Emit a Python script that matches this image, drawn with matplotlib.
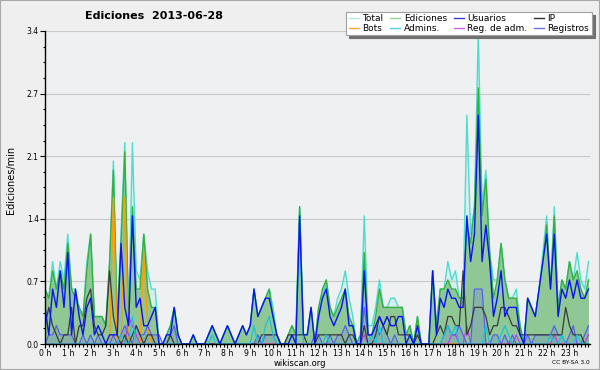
import numpy as np
import matplotlib
matplotlib.use("Agg")
import matplotlib.pyplot as plt
from matplotlib.lines import Line2D
from matplotlib.patches import Rectangle

# --- data: edits per minute, one value per 10 minutes (6 per hour) ---
total = [
    0.6, 0.5, 0.9, 0.6, 0.9, 0.7,
    1.2, 0.6, 0.6, 0.4, 0.3, 0.9,
    1.2, 0.3, 0.3, 0.3, 0.2, 0.9,
    2.0, 0.3, 1.2, 2.2, 0.3, 2.2,
    0.8, 0.7, 1.2, 0.8, 0.6, 0.6,
    0.0, 0.0, 0.1, 0.2, 0.4, 0.1,
    0.0, 0.0, 0.0, 0.1, 0.0, 0.0,
    0.0, 0.1, 0.2, 0.1, 0.0, 0.1,
    0.2, 0.1, 0.0, 0.1, 0.2, 0.1,
    0.2, 0.6, 0.3, 0.4, 0.5, 0.6,
    0.4, 0.1, 0.0, 0.0, 0.1, 0.2,
    0.1, 1.5, 0.1, 0.1, 0.4, 0.0,
    0.4, 0.5, 0.7, 0.4, 0.3, 0.5,
    0.6, 0.8, 0.5, 0.3, 0.0, 0.1,
    1.4, 0.2, 0.2, 0.4, 0.7, 0.4,
    0.4, 0.5, 0.5, 0.4, 0.4, 0.1,
    0.2, 0.0, 0.3, 0.0, 0.0, 0.0,
    0.8, 0.2, 0.6, 0.6, 0.9, 0.7,
    0.8, 0.5, 0.5, 2.5, 1.2, 1.5,
    3.4, 1.5, 1.9, 1.0, 0.7, 0.7,
    1.1, 0.7, 0.5, 0.5, 0.6, 0.2,
    0.0, 0.5, 0.4, 0.3, 0.6, 1.0,
    1.4, 0.6, 1.5, 0.4, 0.7, 0.6,
    0.9, 0.7, 1.0, 0.7, 0.6, 0.9,
]
ediciones = [
    0.6, 0.5, 0.8, 0.6, 0.8, 0.6,
    1.1, 0.6, 0.5, 0.4, 0.3, 0.8,
    1.2, 0.3, 0.3, 0.3, 0.2, 0.9,
    1.9, 0.2, 1.1, 2.1, 0.2, 1.5,
    0.6, 0.6, 1.2, 0.6, 0.4, 0.4,
    0.0, 0.0, 0.1, 0.2, 0.4, 0.1,
    0.0, 0.0, 0.0, 0.1, 0.0, 0.0,
    0.0, 0.1, 0.2, 0.1, 0.0, 0.1,
    0.2, 0.1, 0.0, 0.1, 0.2, 0.1,
    0.2, 0.6, 0.3, 0.4, 0.5, 0.6,
    0.3, 0.1, 0.0, 0.0, 0.1, 0.2,
    0.1, 1.5, 0.1, 0.1, 0.4, 0.0,
    0.4, 0.6, 0.7, 0.4, 0.3, 0.4,
    0.5, 0.6, 0.3, 0.2, 0.0, 0.1,
    1.0, 0.1, 0.1, 0.3, 0.6, 0.4,
    0.4, 0.4, 0.4, 0.4, 0.4, 0.1,
    0.2, 0.0, 0.3, 0.0, 0.0, 0.0,
    0.8, 0.2, 0.6, 0.6, 0.7, 0.6,
    0.6, 0.5, 0.5, 1.3, 1.1, 1.5,
    2.8, 1.4, 1.8, 1.0, 0.5, 0.7,
    1.1, 0.7, 0.5, 0.5, 0.5, 0.2,
    0.0, 0.5, 0.4, 0.3, 0.6, 0.9,
    1.3, 0.6, 1.4, 0.4, 0.7, 0.6,
    0.9, 0.7, 0.8, 0.6, 0.5, 0.7,
]
usuarios = [
    0.4, 0.1, 0.6, 0.4, 0.8, 0.4,
    1.0, 0.1, 0.6, 0.3, 0.1, 0.4,
    0.5, 0.1, 0.2, 0.1, 0.0, 0.1,
    0.1, 0.1, 1.1, 0.4, 0.2, 1.4,
    0.4, 0.5, 0.2, 0.2, 0.3, 0.4,
    0.0, 0.0, 0.1, 0.1, 0.4, 0.1,
    0.0, 0.0, 0.0, 0.1, 0.0, 0.0,
    0.0, 0.1, 0.2, 0.1, 0.0, 0.1,
    0.2, 0.1, 0.0, 0.1, 0.2, 0.1,
    0.2, 0.6, 0.3, 0.4, 0.5, 0.5,
    0.3, 0.1, 0.0, 0.0, 0.0, 0.1,
    0.0, 1.4, 0.1, 0.1, 0.4, 0.0,
    0.3, 0.5, 0.6, 0.3, 0.2, 0.3,
    0.4, 0.6, 0.2, 0.2, 0.0, 0.0,
    0.8, 0.1, 0.1, 0.2, 0.3, 0.2,
    0.3, 0.2, 0.2, 0.3, 0.3, 0.0,
    0.1, 0.0, 0.2, 0.0, 0.0, 0.0,
    0.8, 0.1, 0.5, 0.4, 0.6, 0.5,
    0.5, 0.4, 0.4, 1.4, 0.9, 1.2,
    2.5, 0.9, 1.3, 0.9, 0.3, 0.5,
    0.8, 0.3, 0.4, 0.4, 0.4, 0.1,
    0.0, 0.5, 0.4, 0.3, 0.6, 0.9,
    1.2, 0.6, 1.2, 0.3, 0.6, 0.5,
    0.7, 0.5, 0.7, 0.5, 0.5, 0.6,
]
ip = [
    0.2, 0.4, 0.2, 0.1, 0.0, 0.1,
    0.1, 0.4, 0.0, 0.2, 0.2, 0.5,
    0.6, 0.2, 0.1, 0.1, 0.2, 0.8,
    0.3, 0.1, 0.0, 0.1, 0.0, 0.1,
    0.2, 0.1, 0.0, 0.1, 0.1, 0.0,
    0.0, 0.0, 0.0, 0.1, 0.0, 0.0,
    0.0, 0.0, 0.0, 0.0, 0.0, 0.0,
    0.0, 0.0, 0.0, 0.0, 0.0, 0.0,
    0.0, 0.0, 0.0, 0.0, 0.0, 0.0,
    0.0, 0.0, 0.0, 0.1, 0.1, 0.1,
    0.1, 0.1, 0.0, 0.0, 0.1, 0.1,
    0.1, 0.1, 0.1, 0.0, 0.0, 0.0,
    0.1, 0.1, 0.1, 0.1, 0.1, 0.1,
    0.1, 0.0, 0.1, 0.1, 0.0, 0.0,
    0.2, 0.0, 0.0, 0.1, 0.3, 0.2,
    0.1, 0.3, 0.3, 0.1, 0.1, 0.1,
    0.1, 0.0, 0.1, 0.0, 0.0, 0.0,
    0.0, 0.1, 0.2, 0.1, 0.3, 0.3,
    0.2, 0.2, 0.8, 0.1, 0.2, 0.4,
    0.4, 0.4, 0.3, 0.1, 0.2, 0.2,
    0.4, 0.4, 0.3, 0.2, 0.2, 0.1,
    0.1, 0.1, 0.1, 0.1, 0.1, 0.1,
    0.1, 0.1, 0.1, 0.1, 0.1, 0.4,
    0.2, 0.1, 0.1, 0.1, 0.0, 0.0,
]
bots = [0.0] * 144
for k, v in {18: 1.6, 21: 1.6, 26: 1.0, 27: 0.2}.items():
    bots[k] = v
admins = [0.0] * 144
for k, v in {20: 0.1, 23: 0.3, 44: 0.1, 55: 0.2, 58: 0.2, 59: 0.3, 60: 0.1,
             67: 1.4, 74: 0.1, 86: 0.1, 88: 0.2, 105: 0.1, 106: 0.2, 107: 0.1,
             108: 0.2, 116: 0.2, 120: 0.1, 121: 0.2, 122: 0.1, 133: 0.1,
             136: 0.1, 140: 0.1}.items():
    admins[k] = v
reg_adm = [0.0] * 144
for k, v in {22: 0.3, 23: 0.2, 24: 0.1, 84: 0.1, 107: 0.1, 108: 0.1,
             111: 0.2, 124: 0.1, 134: 0.1, 143: 0.1}.items():
    reg_adm[k] = v
registros = [
    0.0, 0.1, 0.1, 0.2, 0.1, 0.1,
    0.1, 0.1, 0.0, 0.0, 0.1, 0.0,
    0.1, 0.0, 0.1, 0.0, 0.0, 0.0,
    0.1, 0.0, 0.1, 0.2, 0.1, 0.0,
    0.2, 0.1, 0.1, 0.2, 0.1, 0.1,
    0.1, 0.0, 0.0, 0.1, 0.2, 0.0,
    0.0, 0.0, 0.0, 0.0, 0.0, 0.0,
    0.0, 0.0, 0.0, 0.0, 0.0, 0.0,
    0.0, 0.0, 0.0, 0.0, 0.0, 0.0,
    0.0, 0.0, 0.1, 0.0, 0.1, 0.1,
    0.1, 0.0, 0.0, 0.0, 0.0, 0.0,
    0.0, 0.0, 0.0, 0.0, 0.0, 0.1,
    0.1, 0.0, 0.0, 0.1, 0.0, 0.1,
    0.1, 0.2, 0.1, 0.0, 0.0, 0.0,
    0.4, 0.1, 0.1, 0.2, 0.1, 0.2,
    0.1, 0.0, 0.1, 0.0, 0.0, 0.0,
    0.0, 0.0, 0.0, 0.0, 0.0, 0.0,
    0.0, 0.0, 0.0, 0.1, 0.2, 0.1,
    0.1, 0.2, 0.1, 0.0, 0.0, 0.6,
    0.6, 0.6, 0.0, 0.0, 0.1, 0.1,
    0.0, 0.1, 0.0, 0.1, 0.0, 0.0,
    0.0, 0.1, 0.0, 0.1, 0.1, 0.1,
    0.1, 0.1, 0.2, 0.1, 0.1, 0.0,
    0.1, 0.2, 0.0, 0.0, 0.1, 0.2,
]

hours = np.arange(144) / 6.0
hour_labels = [f"{h} h" for h in range(24)]
ytick_vals = [0, 0.684, 1.368, 2.052, 2.736, 3.42]
ytick_labels = ["0.0", "0.7", "1.4", "2.1", "2.7", "3.4"]

colors = {
    "Total": "#3ddccb",
    "Ediciones": "#35b040",
    "Usuarios": "#0a14ee",
    "IP": "#3a3a3a",
    "Bots": "#ff9a00",
    "Admins.": "#18c4de",
    "Reg. de adm.": "#c23ef0",
    "Registros": "#5a5ef0",
}
legend_colors = {
    "Total": "#b4eae4",
    "Ediciones": "#8fd48f",
    "Usuarios": "#3838d8",
    "IP": "#303030",
    "Bots": "#ffa640",
    "Admins.": "#55d0e0",
    "Reg. de adm.": "#d060e8",
    "Registros": "#7070e8",
}

fig = plt.figure(figsize=(6, 3.7), dpi=100, facecolor="#efefef")
fig.patches.append(Rectangle((0, 0), 1, 1, transform=fig.transFigure,
                             fill=False, edgecolor="#a8a8a8", linewidth=1.5))
ax = fig.add_axes([45 / 600, 26 / 370, 545 / 600, 313 / 370])
ax.set_facecolor("#eef0f2")

# --- areas ---
ax.fill_between(hours, 0, total, color=colors["Total"], alpha=0.12, lw=0)
ax.fill_between(hours, 0, ediciones, color="#8fc894", lw=0)
ax.fill_between(hours, 0, registros, color=colors["Registros"], alpha=0.18, lw=0)

# --- lines ---
ax.plot(hours, total, color=colors["Total"], lw=1.0, alpha=0.9)
ax.plot(hours, ediciones, color=colors["Ediciones"], lw=1.0)
ax.plot(hours, bots, color=colors["Bots"], lw=1.0)
ax.plot(hours, reg_adm, color=colors["Reg. de adm."], lw=0.9)
ax.plot(hours, registros, color=colors["Registros"], lw=0.9)
ax.plot(hours, ip, color=colors["IP"], lw=0.9)
ax.plot(hours, admins, color=colors["Admins."], lw=0.9)
ax.plot(hours, usuarios, color=colors["Usuarios"], lw=1.0)

# --- axes ---
ax.set_xlim(0, 23.9)
ax.set_ylim(0, 3.42)
ax.set_xticks(range(24))
ax.set_xticklabels(hour_labels, fontsize=5.6)
ax.set_xticks(hours, minor=True)
ax.set_yticks(ytick_vals)
ax.set_yticklabels(ytick_labels, fontsize=5.5)
ax.set_yticks(np.arange(0, 3.43, 0.171), minor=True)
ax.tick_params(axis="x", which="major", length=3.0, width=0.8, pad=0.3)
ax.tick_params(axis="x", which="minor", length=2.0, width=0.8)
ax.tick_params(axis="y", which="major", length=3.5, width=0.8, pad=1)
ax.tick_params(axis="y", which="minor", length=1.8, width=0.8)
ax.grid(axis="y", which="major", color="#c8c8c8", lw=0.8)
ax.set_axisbelow(True)
for side in ("top", "right"):
    ax.spines[side].set_visible(False)
for side in ("left", "bottom"):
    ax.spines[side].set_linewidth(1.0)
    ax.spines[side].set_zorder(5)

fig.text(0.257, 0.958, "Ediciones  2013-06-28", ha="center", va="center",
         fontsize=8, fontweight="bold")
fig.text(0.018, 0.515, "Ediciones/min", rotation=90, ha="center", va="center",
         fontsize=7)
fig.text(0.5, 0.017, "wikiscan.org", ha="center", va="center", fontsize=6)
fig.text(0.983, 0.02, "CC BY-SA 3.0", ha="right", va="center", fontsize=4.2)

# --- legend ---
order = ["Total", "Bots", "Ediciones", "Admins.", "Usuarios", "Reg. de adm.",
         "IP", "Registros"]
handles = [Line2D([], [], color=legend_colors[n], lw=1.0) for n in order]
leg = fig.legend(handles, order, loc="upper left", ncol=4,
                 bbox_to_anchor=(346 / 600, 1 - 11.5 / 370),
                 bbox_transform=fig.transFigure, borderaxespad=0,
                 fontsize=6.5, handlelength=1.1, handletextpad=0.4,
                 columnspacing=0.75, labelspacing=0.05, borderpad=0.3,
                 fancybox=False, framealpha=1,
                 shadow={"ox": 2.2, "oy": -2.2, "color": "#707070", "alpha": 1})
leg.get_frame().set_edgecolor("#a0a0a0")
leg.get_frame().set_linewidth(0.8)

fig.savefig("out.png", dpi=100, facecolor=fig.get_facecolor())
